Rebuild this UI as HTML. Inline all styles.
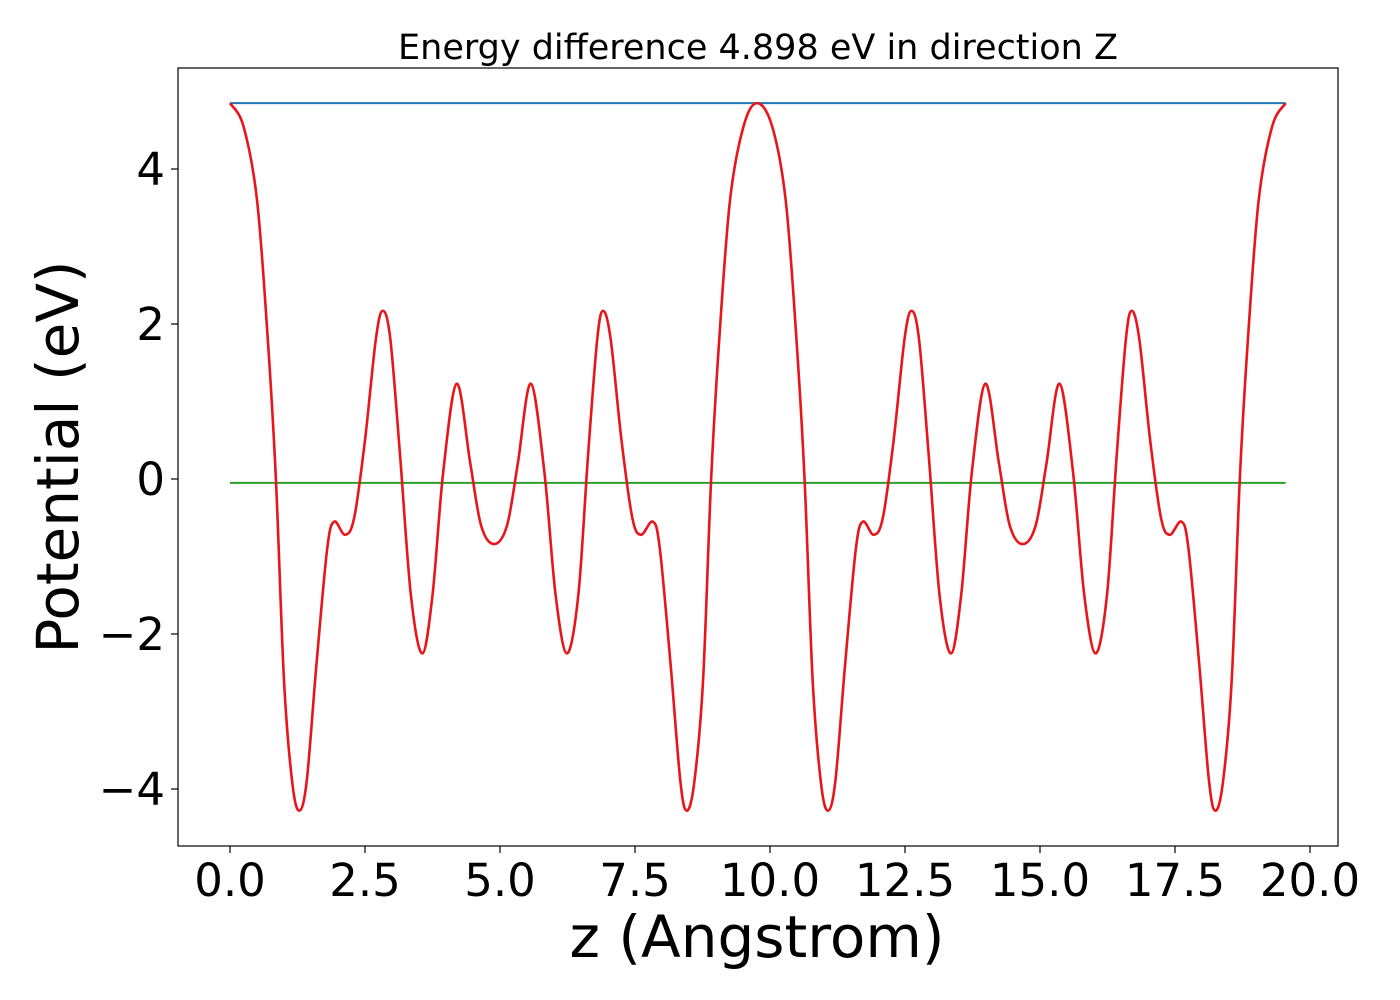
<!DOCTYPE html>
<html><head><meta charset="utf-8"><style>
body{margin:0;background:#fff}
svg{display:block;font-family:"DejaVu Sans","Liberation Sans",sans-serif}
</style></head><body>
<svg id="chart" width="1400" height="1000">
<rect x="0" y="0" width="1400" height="1000" fill="#fff"/>
<text x="758" y="59" font-size="35" text-anchor="middle">Energy difference 4.898 eV in direction Z</text>
<g id="plot"></g>
<rect x="178" y="68" width="1160" height="778" fill="none" stroke="#000" stroke-width="1.2"/>
<text x="757" y="957" font-size="58" text-anchor="middle">z (Angstrom)</text>
<text transform="translate(78,457) rotate(-90)" font-size="58" text-anchor="middle">Potential (eV)</text>
</svg>
<script>
const xTicks=[0,2.5,5,7.5,10,12.5,15,17.5,20];
const xTickLabels=["0.0","2.5","5.0","7.5","10.0","12.5","15.0","17.5","20.0"];
const yTicks=[-4,-2,0,2,4];
const yTickLabels=["\u22124","\u22122","0","2","4"];
const vbmLevel=4.85;
const avgLevel=-0.05;
const zStart=0, zEnd=19.55;
const zVals=[0,0.25,0.5,0.7,0.85,1.0,1.15,1.28,1.42,1.6,1.8,1.93,2.13,2.3,2.5,2.7,2.83,2.97,3.15,3.35,3.56,3.75,3.95,4.2,4.45,4.65,4.89,5.13,5.33,5.57,5.82,6.03,6.24,6.45,6.63,6.8,6.91,7.05,7.25,7.45,7.61,7.83,7.96,8.16,8.34,8.46,8.6,8.76,8.91,9.06,9.26,9.51,9.76,
10.04,10.29,10.49,10.64,10.79,10.94,11.07,11.21,11.39,11.59,11.72,11.92,12.09,12.29,12.49,12.62,12.76,12.94,13.14,13.35,13.54,13.74,13.99,14.24,14.44,14.68,14.92,15.12,15.36,15.61,15.82,16.03,16.24,16.42,16.59,16.70,16.84,17.04,17.24,17.40,17.62,17.75,17.95,18.13,18.25,18.39,18.55,18.70,18.85,19.05,19.30,19.55];
const potVals=[4.85,4.55,3.6,1.8,0,-2.6,-3.9,-4.28,-3.9,-2.4,-0.9,-0.55,-0.72,-0.5,0.5,1.8,2.17,1.8,0.3,-1.5,-2.25,-1.5,0.1,1.23,0.2,-0.6,-0.84,-0.6,0.2,1.23,0.1,-1.5,-2.25,-1.5,0.3,1.8,2.17,1.8,0.5,-0.5,-0.72,-0.55,-0.9,-2.4,-3.9,-4.28,-3.9,-2.6,0,1.8,3.6,4.55,4.85,
4.55,3.6,1.8,0,-2.6,-3.9,-4.28,-3.9,-2.4,-0.9,-0.55,-0.72,-0.5,0.5,1.8,2.17,1.8,0.3,-1.5,-2.25,-1.5,0.1,1.23,0.2,-0.6,-0.84,-0.6,0.2,1.23,0.1,-1.5,-2.25,-1.5,0.3,1.8,2.17,1.8,0.5,-0.5,-0.72,-0.55,-0.9,-2.4,-3.9,-4.28,-3.9,-2.6,0,1.8,3.6,4.55,4.85];

const X=z=>230+z*54;
const Y=v=>479-v*77.5;
const NS="http://www.w3.org/2000/svg";
const svg=document.getElementById('chart');
const g=document.getElementById('plot');
function mk(tag,attrs,parent){const e=document.createElementNS(NS,tag);for(const k in attrs)e.setAttribute(k,attrs[k]);(parent||g).appendChild(e);return e;}

xTicks.forEach((t,i)=>{
  const l=mk('line',{x1:X(t),x2:X(t),y1:846,y2:853,stroke:'#000','stroke-width':1.2},svg);
  
  
  const tx=mk('text',{x:X(t),y:896,'font-size':45,'text-anchor':'middle'},svg);
  tx.textContent=xTickLabels[i];
  
  
});
yTicks.forEach((t,i)=>{
  const l=mk('line',{x1:171,x2:178,y1:Y(t),y2:Y(t),stroke:'#000','stroke-width':1.2},svg);
  
  
  const tx=mk('text',{x:165,y:Y(t)+16,'font-size':45,'text-anchor':'end'},svg);
  tx.textContent=yTickLabels[i];
  
  
});

const blue=mk('line',{x1:X(zStart),x2:X(zEnd),y1:Y(vbmLevel),y2:Y(vbmLevel),stroke:'#1f77b4','stroke-width':2});


const green=mk('line',{x1:X(zStart),x2:X(zEnd),y1:Y(avgLevel),y2:Y(avgLevel),stroke:'#2ca02c','stroke-width':2});



const P=zVals.map((z,i)=>[X(z),Y(potVals[i])]);
let d='M'+P[0][0]+','+P[0][1];
for(let i=0;i<P.length-1;i++){
  const p0=P[Math.max(0,i-1)],p1=P[i],p2=P[i+1],p3=P[Math.min(P.length-1,i+2)];
  const c1=[p1[0]+(p2[0]-p0[0])/6,p1[1]+(p2[1]-p0[1])/6];
  const c2=[p2[0]-(p3[0]-p1[0])/6,p2[1]-(p3[1]-p1[1])/6];
  d+=` C${c1[0]},${c1[1]} ${c2[0]},${c2[1]} ${p2[0]},${p2[1]}`;
}
const red=mk('path',{d:d,fill:'none',stroke:'#e8161b','stroke-width':2.6});


</script>
</body></html>
